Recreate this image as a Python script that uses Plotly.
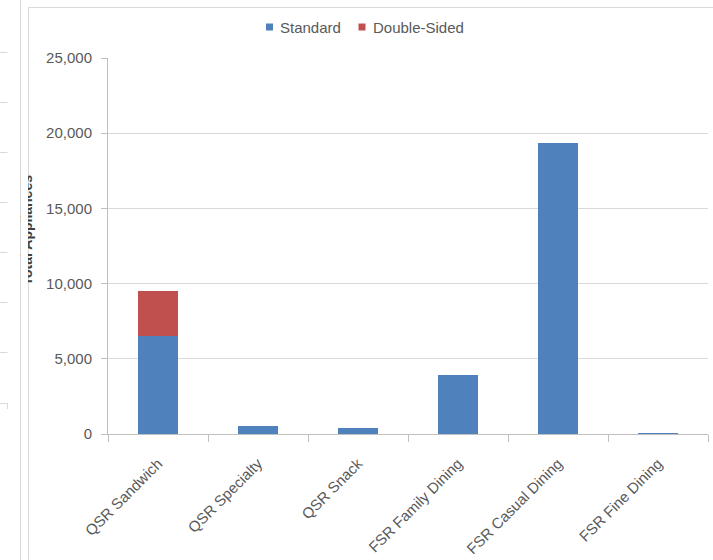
import plotly.graph_objects as go

# Data: appliance counts by restaurant segment
categories = [
    "QSR Sandwich",
    "QSR Specialty",
    "QSR Snack",
    "FSR Family Dining",
    "FSR Casual Dining",
    "FSR Fine Dining",
]
standard = [6500, 550, 400, 3900, 19350, 60]
double_sided = [3000, 0, 0, 0, 0, 0]
y_tick_values = [0, 5000, 10000, 15000, 20000, 25000]
series_names = ["Standard", "Double-Sided"]

# Figure geometry (pixels)
W, H = 713, 560
L, R, T, B = 108, 5, 58, 126


def px_x(x):
    return (x - L) / (W - L - R)


def px_y(y):
    return (H - B - y) / (H - T - B)


BLUE = "#4F81BD"
RED = "#C0504D"
TEXT = "#595959"
FRAME = "#d9d9d9"
AXIS = "#bfbfbf"
FONT = "Liberation Sans, Arial"

fig = go.Figure()
fig.add_trace(go.Bar(name=series_names[0], x=categories, y=standard,
                     marker=dict(color=BLUE, line=dict(width=0)), showlegend=False))
fig.add_trace(go.Bar(name=series_names[1], x=categories, y=double_sided,
                     marker=dict(color=RED, line=dict(width=0)), showlegend=False))

shapes = []
line_style = dict(color=FRAME, width=1)
# neighbouring panel edge and its tick marks
shapes.append(dict(type="line", xref="paper", yref="paper",
                   x0=px_x(20.5), x1=px_x(20.5), y0=px_y(0), y1=px_y(560),
                   line=line_style))
for ty in [52, 102, 152, 202, 252, 302, 352, 403]:
    shapes.append(dict(type="line", xref="paper", yref="paper",
                       x0=px_x(0), x1=px_x(7.5), y0=px_y(ty + 0.5), y1=px_y(ty + 0.5),
                       line=line_style))
shapes.append(dict(type="line", xref="paper", yref="paper",
                   x0=px_x(7.5), x1=px_x(7.5), y0=px_y(403), y1=px_y(409),
                   line=line_style))
# chart frame
shapes.append(dict(type="line", xref="paper", yref="paper",
                   x0=px_x(28.5), x1=px_x(28.5), y0=px_y(7.5), y1=px_y(560),
                   line=line_style))
shapes.append(dict(type="line", xref="paper", yref="paper",
                   x0=px_x(28.5), x1=px_x(713), y0=px_y(7.5), y1=px_y(7.5),
                   line=line_style))

annotations = [
    # y-axis title, partly hidden behind the frame edge
    dict(text="<b>Total Appliances</b>", textangle=-90, showarrow=False,
         xref="paper", yref="paper", x=px_x(26.5), y=px_y(230),
         xanchor="center", yanchor="middle",
         font=dict(family=FONT, size=14, color="#404040")),
    dict(text=" ", showarrow=False, xref="paper", yref="paper",
         x=px_x(21), y=px_y(230), xanchor="left", yanchor="middle",
         width=7, height=170, bgcolor="white", borderpad=0, borderwidth=0),
]

# compact legend: small square swatch followed by the series name
legend_items = [(series_names[0], BLUE, 266), (series_names[1], RED, 358.5)]
for name, color, sx in legend_items:
    shapes.append(dict(type="rect", xref="paper", yref="paper",
                       x0=px_x(sx), x1=px_x(sx + 7), y0=px_y(23.5), y1=px_y(30.5),
                       fillcolor=color, line=dict(width=0)))
    annotations.append(dict(text=name, showarrow=False, xref="paper", yref="paper",
                            x=px_x(sx + 13), y=px_y(27), xanchor="left",
                            yanchor="middle", borderpad=0,
                            font=dict(family=FONT, size=15, color=TEXT)))

fig.update_layout(
    width=W, height=H,
    margin=dict(l=L, r=R, t=T, b=B, pad=0, autoexpand=False),
    paper_bgcolor="white", plot_bgcolor="white",
    barmode="stack", bargap=0.6,
    font=dict(family=FONT, size=15, color=TEXT),
    showlegend=False,
    shapes=shapes,
    annotations=annotations,
    xaxis=dict(range=[-0.5, 5.5], showline=True, linecolor=AXIS, linewidth=1,
               ticks="outside", tickson="boundaries", ticklen=7, tickcolor=AXIS,
               tickangle=-45, tickfont=dict(size=15, color=TEXT),
               ticklabelstandoff=14, automargin=False,
               showgrid=False, zeroline=False),
    yaxis=dict(range=[0, 25000], tickvals=y_tick_values, tickformat=",d",
               showline=True, linecolor=AXIS, linewidth=1,
               ticks="outside", ticklen=6, tickcolor=AXIS,
               ticklabelstandoff=6, automargin=False,
               showgrid=True, gridcolor=FRAME, gridwidth=1, zeroline=False,
               tickfont=dict(size=15, color=TEXT)),
)

fig.write_html("out.html")
